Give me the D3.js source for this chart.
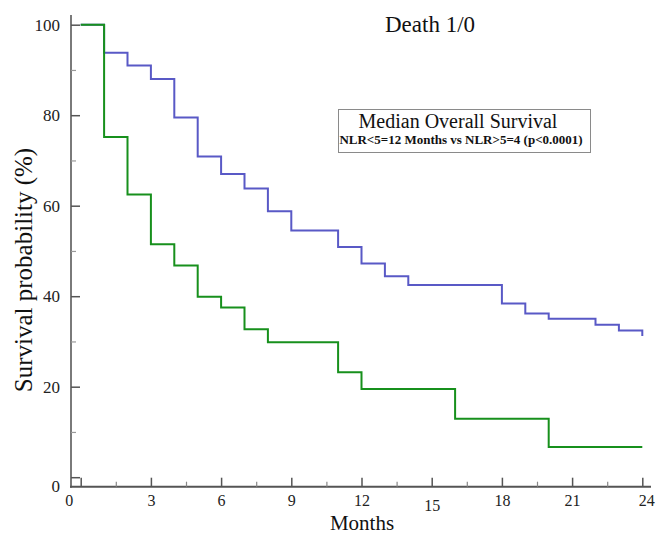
<!DOCTYPE html>
<html>
<head>
<meta charset="utf-8">
<script src="https://cdnjs.cloudflare.com/ajax/libs/d3/7.8.5/d3.min.js"></script>
<style>
    body { margin: 0; background: #fff; }
    svg { display: block; font-family: 'Liberation Serif', 'Times New Roman', serif; }
    svg text { font-family: 'Liberation Serif', 'Times New Roman', serif !important; }
</style>
</head>
<body>
<svg width="656" height="535"></svg>
<script>
    // months at which each curve steps, and survival (%) after the step
    var lowTimes = [0, 1, 2, 3, 4, 5, 6, 7, 8, 9, 11, 12, 13, 14, 18, 19, 20, 22, 23, 24];
    var lowSurv = [100, 93.8, 91.0, 88.0, 79.5, 70.9, 67.0, 63.8, 58.8, 54.5, 50.9, 47.2, 44.4, 42.5, 38.4, 36.2, 35.0, 33.7, 32.4, 31.2];
    var highTimes = [0, 1, 2, 3, 4, 5, 6, 7, 8, 11, 12, 16, 20, 24];
    var highSurv = [100, 75.2, 62.5, 51.5, 46.8, 39.9, 37.5, 32.7, 29.8, 23.2, 19.5, 12.9, 6.7, 6.7];

    var xTicks = [0, 3, 6, 9, 12, 15, 18, 21, 24];
    var xMinor = [1.5, 4.5, 7.5, 10.5, 13.5, 16.5, 19.5, 22.5];
    var yTicks = [0, 20, 40, 60, 80, 100];
    var yMinor = [10, 30, 50, 70, 90];

    var svg = d3.select("svg");

    var axisX = 71, axisY = 486.7;
    var x = d3.scaleLinear().domain([0, 24]).range([80.7, 642.3]);
    var y = d3.scaleLinear().domain([0, 100]).range([477.2, 24.7]);

    // axis lines (offset from the data origin, like the original)
    svg.append("line")
        .attr("x1", axisX).attr("x2", axisX)
        .attr("y1", 15).attr("y2", axisY + 1)
        .attr("stroke", "#7a7a7a").attr("stroke-width", 2);
    svg.append("line")
        .attr("x1", axisX - 1).attr("x2", 651)
        .attr("y1", axisY).attr("y2", axisY)
        .attr("stroke", "#555").attr("stroke-width", 2);

    // y axis
    var gy = svg.append("g")
        .attr("transform", "translate(" + axisX + ",0)")
        .call(d3.axisLeft(y).tickValues(yTicks).tickSize(-9).tickPadding(11));
    gy.select(".domain").remove();
    gy.selectAll(".tick line").attr("stroke", "#555").attr("stroke-width", 1.5);
    gy.selectAll(".tick text")
        .style("font-size", "17px")
        .attr("fill", "#222")
        .attr("dy", function(d) { return d === 0 ? "0.85em" : "0.32em"; });

    var gyMinor = svg.append("g")
        .attr("transform", "translate(" + axisX + ",0)")
        .call(d3.axisLeft(y).tickValues(yMinor).tickSize(-5).tickFormat(""));
    gyMinor.select(".domain").remove();
    gyMinor.selectAll(".tick line").attr("stroke", "#999").attr("stroke-width", 1.2);

    // x axis
    var gx = svg.append("g")
        .attr("transform", "translate(0," + axisY + ")")
        .call(d3.axisBottom(x).tickValues(xTicks).tickSize(-9).tickPadding(9));
    gx.select(".domain").remove();
    gx.selectAll(".tick line").attr("stroke", "#555").attr("stroke-width", 1.5);
    gx.selectAll(".tick text")
        .style("font-size", "16px")
        .attr("fill", "#222")
        .attr("dx", function(d) { return d === 0 ? -12 : (d === 24 ? 4 : 0); })
        .attr("y", function(d) { return d === 15 ? 13 : 8; });

    var gxMinor = svg.append("g")
        .attr("transform", "translate(0," + axisY + ")")
        .call(d3.axisBottom(x).tickValues(xMinor).tickSize(-5).tickFormat(""));
    gxMinor.select(".domain").remove();
    gxMinor.selectAll(".tick line").attr("stroke", "#888").attr("stroke-width", 1.2);

    // axis titles
    svg.append("text")
        .attr("x", 362).attr("y", 530)
        .attr("text-anchor", "middle")
        .attr("font-size", 21)
        .attr("fill", "#111")
        .text("Months");

    svg.append("text")
        .attr("transform", "translate(32,270) rotate(-90)")
        .attr("text-anchor", "middle")
        .attr("font-size", 25)
        .attr("fill", "#111")
        .text("Survival probability (%)");

    // survival curves
    var line = d3.line()
        .curve(d3.curveStepAfter)
        .x(function(d) { return x(d[0]); })
        .y(function(d) { return y(d[1]); });

    svg.append("path")
        .datum(d3.zip(lowTimes, lowSurv))
        .attr("fill", "none")
        .attr("stroke", "#5959c6")
        .attr("stroke-width", 2)
        .attr("d", line);

    svg.append("path")
        .datum(d3.zip(highTimes, highSurv))
        .attr("fill", "none")
        .attr("stroke", "#17901c")
        .attr("stroke-width", 2)
        .attr("d", line);

    // title
    svg.append("text")
        .attr("x", 430).attr("y", 32)
        .attr("text-anchor", "middle")
        .attr("font-size", 23)
        .attr("fill", "#111")
        .text("Death 1/0");

    // legend box
    svg.append("rect")
        .attr("x", 338.5).attr("y", 109.5)
        .attr("width", 252).attr("height", 43)
        .attr("fill", "#fff")
        .attr("stroke", "#8a8a8a")
        .attr("stroke-width", 1);
    svg.append("text")
        .attr("x", 458).attr("y", 127.5)
        .attr("text-anchor", "middle")
        .attr("font-size", 20)
        .attr("fill", "#111")
        .text("Median Overall Survival");
    svg.append("text")
        .attr("x", 461).attr("y", 144)
        .attr("text-anchor", "middle")
        .attr("font-size", 13)
        .attr("font-weight", "bold")
        .attr("fill", "#111")
        .text("NLR<5=12 Months vs NLR>5=4 (p<0.0001)");
</script>
</body>
</html>
